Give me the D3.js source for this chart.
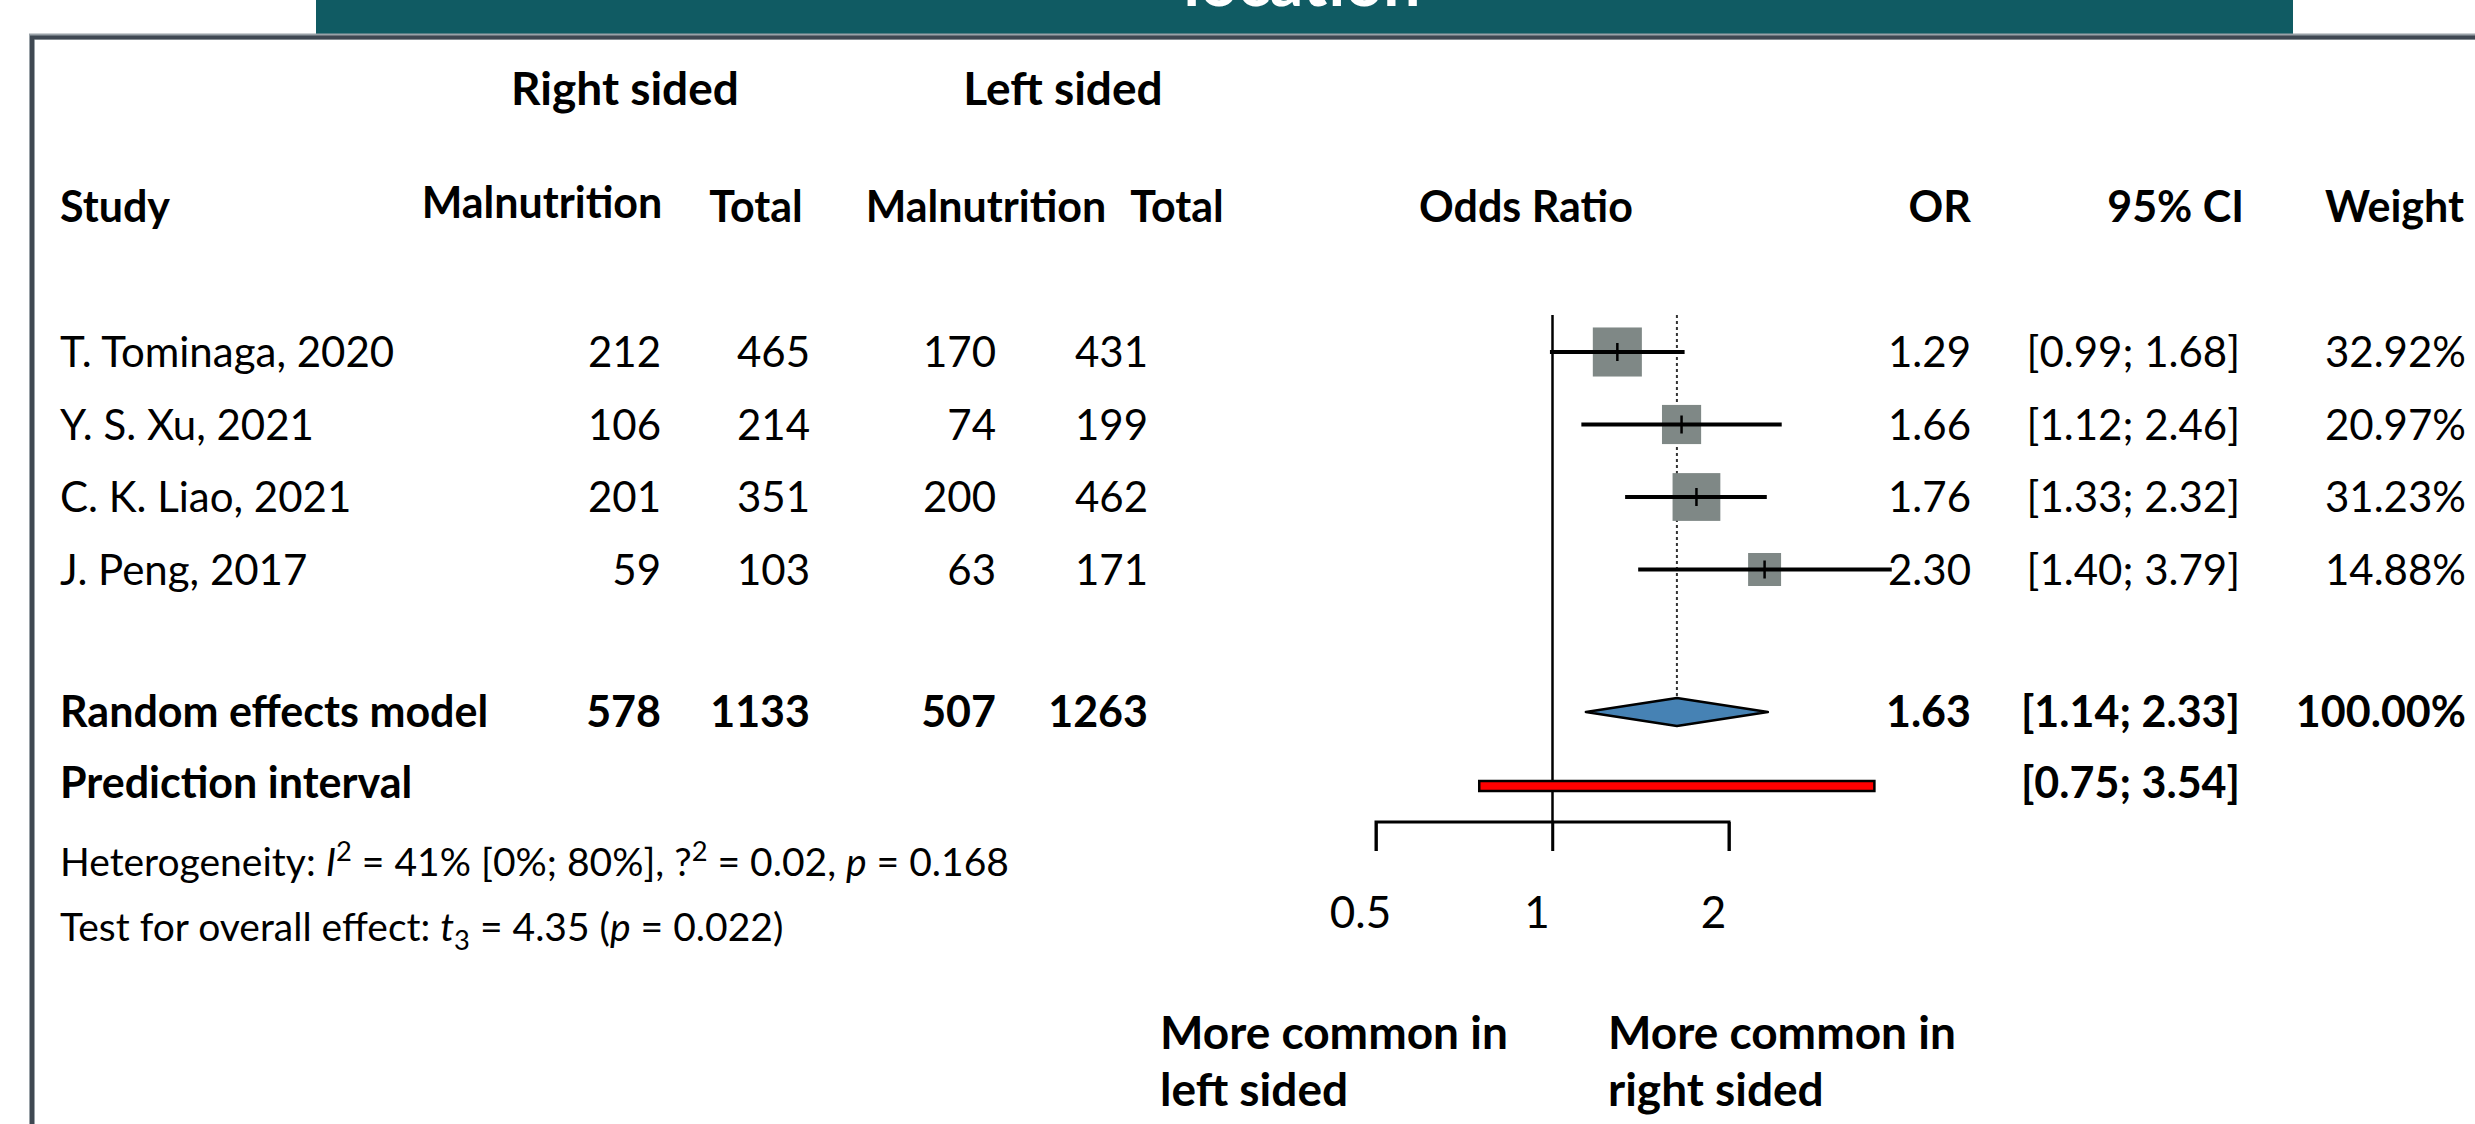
<!DOCTYPE html>
<html>
<head>
<meta charset="utf-8">
<script src="https://cdn.jsdelivr.net/npm/d3@7"></script>
<style>
  html, body { margin: 0; padding: 0; background: #ffffff; }
  svg { display: block; }
  text { font-family: Lato, "Open Sans", sans-serif; fill: #000; }
</style>
</head>
<body>
<svg id="chart" width="2475" height="1124"></svg>
<script>
// Study-level data
const studies = ["T. Tominaga, 2020", "Y. S. Xu, 2021", "C. K. Liao, 2021", "J. Peng, 2017"];
const rightMalnutrition = [212, 106, 201, 59];
const rightTotal = [465, 214, 351, 103];
const leftMalnutrition = [170, 74, 200, 63];
const leftTotal = [431, 199, 462, 171];
const oddsRatio = [1.29, 1.66, 1.76, 2.30];
const ciLower = [0.99, 1.12, 1.33, 1.40];
const ciUpper = [1.68, 2.46, 2.32, 3.79];
const weights = [32.92, 20.97, 31.23, 14.88];

// Pooled results
const pooledTotals = [578, 1133, 507, 1263];
const pooledOR = [1.63, 1.14, 2.33];      // estimate, lower, upper
const predictionInterval = [0.75, 3.54];
const pooledWeight = 100.00;

// Axis
const axisTicks = [0.5, 1, 2];

const svg = d3.select("#chart");
const W = 2475, H = 1124;

const fmt2 = d3.format(".2f");
const ciText = (lo, hi) => `[${fmt2(lo)}; ${fmt2(hi)}]`;

// Scales
const x = d3.scaleLog().domain([0.5, 2]).range([1376, 1729]);
const rowY = d3.scaleLinear().domain([0, 1]).range([352, 424.5]);
const pooledY = 712;
const predY = 786;
const plotTop = 315;
const axisY = 822;

const sizeScale = d3.scaleSqrt().domain([0, 100]).range([0, 85.5]);

// Frame and title band
svg.append("rect").attr("x", 316).attr("y", 0).attr("width", 1977).attr("height", 36)
  .attr("fill", "#105b63");
svg.append("text").attr("x", 1302).attr("y", 6).attr("text-anchor", "middle")
  .attr("font-size", 66).attr("font-weight", 700).style("fill", "#ffffff")
  .text("location");
svg.append("path").attr("d", `M32,${H} L32,36.5 L${W},36.5`)
  .attr("fill", "none").attr("stroke", "#9aa2a8").attr("stroke-width", 6);
svg.append("path").attr("d", `M32,${H} L32,37.5 L${W},37.5`)
  .attr("fill", "none").attr("stroke", "#3f4852").attr("stroke-width", 4);

const FS = 42;     // body text
const FSB = 43;    // bold table text
const FSG = 46;    // group labels

function txt(xp, yp, s, opts = {}) {
  return svg.append("text")
    .attr("x", xp).attr("y", yp).attr("dy", "0.36em")
    .attr("text-anchor", opts.anchor || "start")
    .attr("font-size", opts.size || (opts.bold ? FSB : FS))
    .attr("font-weight", opts.bold ? 700 : 400)
    .text(s);
}

// Column headers
txt(625, 88, "Right sided", { bold: true, anchor: "middle", size: FSG });
txt(1063, 88, "Left sided", { bold: true, anchor: "middle", size: FSG });
txt(60, 207, "Study", { bold: true });
txt(542, 203, "Malnutrition", { bold: true, anchor: "middle" });
txt(756, 207, "Total", { bold: true, anchor: "middle" });
txt(986, 207, "Malnutrition", { bold: true, anchor: "middle" });
txt(1177, 207, "Total", { bold: true, anchor: "middle" });
txt(1526, 207, "Odds Ratio", { bold: true, anchor: "middle" });
txt(1971, 207, "OR", { bold: true, anchor: "end" });
txt(2244, 207, "95% CI", { bold: true, anchor: "end" });
txt(2464, 207, "Weight", { bold: true, anchor: "end" });

// Column positions (right edges for numeric columns)
const colRight = [661, 810, 996, 1148];
const orRight = 1971, ciRight = 2240, wRight = 2466;

// Study rows
studies.forEach((name, i) => {
  const y = rowY(i);
  txt(60, y, name);
  [rightMalnutrition[i], rightTotal[i], leftMalnutrition[i], leftTotal[i]]
    .forEach((v, j) => txt(colRight[j], y, v, { anchor: "end" }));
  txt(orRight, y, fmt2(oddsRatio[i]), { anchor: "end" });
  txt(ciRight, y, ciText(ciLower[i], ciUpper[i]), { anchor: "end" });
  txt(wRight, y, fmt2(weights[i]) + "%", { anchor: "end" });
});

// Pooled row
txt(60, pooledY, "Random effects model", { bold: true });
pooledTotals.forEach((v, j) => txt(colRight[j], pooledY, v, { anchor: "end", bold: true }));
txt(orRight, pooledY, fmt2(pooledOR[0]), { anchor: "end", bold: true });
txt(ciRight, pooledY, ciText(pooledOR[1], pooledOR[2]), { anchor: "end", bold: true });
txt(wRight, pooledY, fmt2(pooledWeight) + "%", { anchor: "end", bold: true });

txt(60, 783, "Prediction interval", { bold: true });
txt(ciRight, 783, ciText(predictionInterval[0], predictionInterval[1]), { anchor: "end", bold: true });

// Heterogeneity and overall test lines
const SFS = 39;
const sup = 15, sub = 9;
const het = svg.append("text").attr("x", 60).attr("y", 862).attr("dy", "0.36em").attr("font-size", SFS);
het.append("tspan").text("Heterogeneity: ");
het.append("tspan").attr("font-style", "italic").text("I");
het.append("tspan").attr("font-size", SFS * 0.7).attr("dy", -sup).text("2");
het.append("tspan").attr("dy", sup).text(" = 41% [0%; 80%], ?");
het.append("tspan").attr("font-size", SFS * 0.7).attr("dy", -sup).text("2");
het.append("tspan").attr("dy", sup).text(" = 0.02, ");
het.append("tspan").attr("font-style", "italic").text("p");
het.append("tspan").text(" = 0.168");

const tst = svg.append("text").attr("x", 60).attr("y", 927).attr("dy", "0.36em").attr("font-size", SFS);
tst.append("tspan").text("Test for overall effect: ");
tst.append("tspan").attr("font-style", "italic").text("t");
tst.append("tspan").attr("font-size", SFS * 0.7).attr("dy", sub).text("3");
tst.append("tspan").attr("dy", -sub).text(" = 4.35 (");
tst.append("tspan").attr("font-style", "italic").text("p");
tst.append("tspan").text(" = 0.022)");

// Forest plot
const g = svg.append("g");

// Line of no effect
g.append("line").attr("x1", x(1)).attr("x2", x(1)).attr("y1", plotTop).attr("y2", axisY + 29)
  .attr("stroke", "#000").attr("stroke-width", 2.5);

// Pooled estimate reference line
g.append("line").attr("x1", x(pooledOR[0])).attr("x2", x(pooledOR[0]))
  .attr("y1", plotTop).attr("y2", pooledY - 14)
  .attr("stroke", "#333").attr("stroke-width", 2).attr("stroke-dasharray", "3,3");

// Weighted boxes
studies.forEach((_, i) => {
  const s = sizeScale(weights[i]);
  const cx = x(oddsRatio[i]), cy = rowY(i);
  g.append("rect").attr("x", cx - s / 2).attr("y", cy - s / 2)
    .attr("width", s).attr("height", s).attr("fill", "#7f8886");
});

// Confidence intervals
studies.forEach((_, i) => {
  const cy = rowY(i);
  g.append("line").attr("x1", x(ciLower[i])).attr("x2", x(ciUpper[i]))
    .attr("y1", cy).attr("y2", cy).attr("stroke", "#000").attr("stroke-width", 4);
  g.append("line").attr("x1", x(oddsRatio[i])).attr("x2", x(oddsRatio[i]))
    .attr("y1", cy - 9).attr("y2", cy + 9).attr("stroke", "#000").attr("stroke-width", 2.5);
});

// Pooled diamond
g.append("path")
  .attr("d", `M${x(pooledOR[1])},${pooledY} L${x(pooledOR[0])},${pooledY - 14} L${x(pooledOR[2])},${pooledY} L${x(pooledOR[0])},${pooledY + 14} Z`)
  .attr("fill", "#4682b4").attr("stroke", "#000").attr("stroke-width", 2.5).attr("stroke-linejoin", "round");

// Prediction interval bar
g.append("rect").attr("x", x(predictionInterval[0])).attr("y", predY - 5)
  .attr("width", x(predictionInterval[1]) - x(predictionInterval[0])).attr("height", 10)
  .attr("fill", "#ff0000").attr("stroke", "#000").attr("stroke-width", 2.5);

// Bottom axis
const axis = d3.axisBottom(x).tickValues(axisTicks).tickFormat(d3.format("")).tickSize(29).tickPadding(46);
const ax = g.append("g").attr("transform", `translate(0,${axisY})`).call(axis);
ax.select(".domain").attr("stroke", "#000").attr("stroke-width", 3)
  .attr("d", `M${x(0.5)},29V0H${x(2)}V29`);
ax.selectAll(".tick line").attr("stroke", "#000").attr("stroke-width", 2.5);
ax.selectAll(".tick text").attr("font-size", 44).attr("font-family", "Lato, sans-serif").style("fill", "#000")
  .attr("transform", "translate(-16,0)");

// Direction labels
txt(1160, 1032, "More common in", { bold: true, size: FSG });
txt(1160, 1089, "left sided", { bold: true, size: FSG });
txt(1608, 1032, "More common in", { bold: true, size: FSG });
txt(1608, 1089, "right sided", { bold: true, size: FSG });
</script>
</body>
</html>
